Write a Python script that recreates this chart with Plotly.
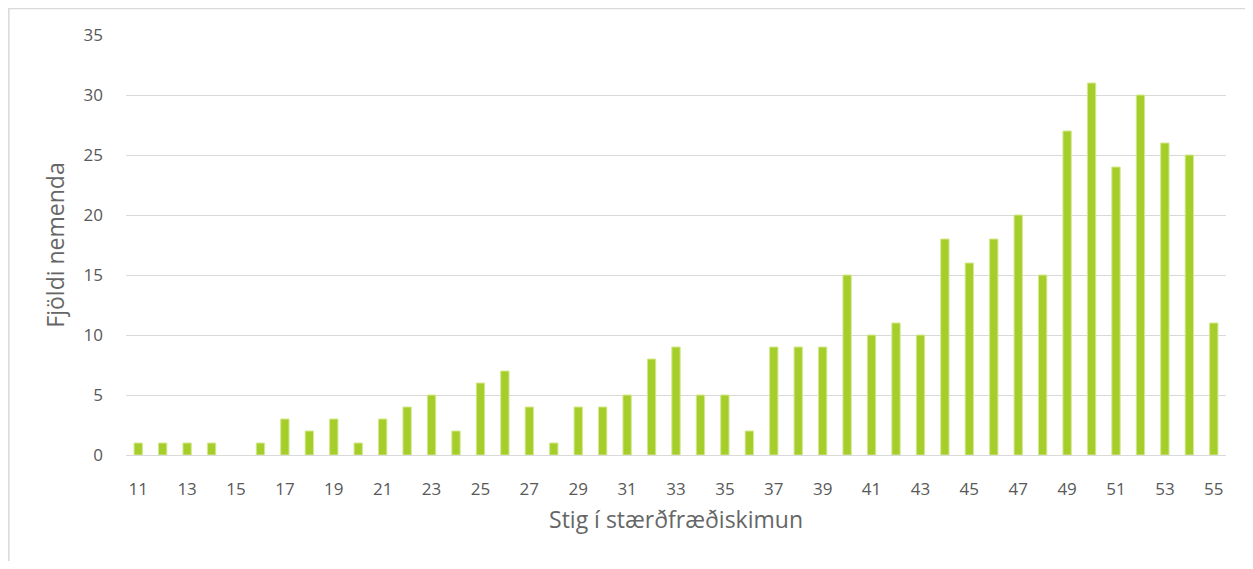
import plotly.graph_objects as go

stig = [str(s) for s in range(11, 56)]
fjoldi = [1, 1, 1, 1, 0, 1, 3, 2, 3, 1,
          3, 4, 5, 2, 6, 7, 4, 1, 4, 4,
          5, 8, 9, 5, 5, 2, 9, 9, 9, 15,
          10, 11, 10, 18, 16, 18, 20, 15, 27, 31,
          24, 30, 26, 25, 11]
x_ticks = stig[::2]
y_ticks = [0, 5, 10, 15, 20, 25, 30, 35]

grey = '#595959'

# no outline on empty bars, otherwise a sliver shows at 0
outline = [0 if v == 0 else 1 for v in fjoldi]

fig = go.Figure(go.Bar(
    x=stig, y=fjoldi,
    marker=dict(color='#a6ce2a', line=dict(color='#d3e88f', width=outline)),
))

# page body has an 8px margin, so the figure is a bit smaller than the window
fig.update_layout(
    width=1237, height=553,
    margin=dict(l=118, r=19, t=27, b=106),
    paper_bgcolor='white', plot_bgcolor='white',
    bargap=0.66, showlegend=False,
    font=dict(family='Open Sans, Noto Sans, sans-serif', color=grey, size=16),
)

fig.update_xaxes(
    type='category', range=[-0.5, 44.5],
    tickmode='array', tickvals=x_ticks, ticktext=x_ticks,
    ticks='', showgrid=False, showline=False, zeroline=False,
    ticklabelstandoff=22,
    tickfont=dict(size=17, color=grey),
    title=dict(text='Stig í stærðfræðiskimun', font=dict(size=23, color='#666666'), standoff=12),
)

fig.update_yaxes(
    range=[0, 35], tickmode='array', tickvals=y_ticks,
    showgrid=True, gridcolor='#d9d9d9', gridwidth=1,
    zeroline=True, zerolinecolor='#d9d9d9', zerolinewidth=1,
    showline=False, ticks='', ticklabelstandoff=22,
    tickfont=dict(size=17, color=grey),
    title=dict(text='Fjöldi nemenda', font=dict(size=23, color='#666666'), standoff=12),
)

# light frame round the chart, as in the source image
fig.add_shape(type='rect', xref='paper', yref='paper',
              x0=-0.1065, x1=1.05, y0=-0.3, y1=1.063,
              line=dict(color='#d9d9d9', width=1.5), layer='below')

fig.write_html("out.html")
